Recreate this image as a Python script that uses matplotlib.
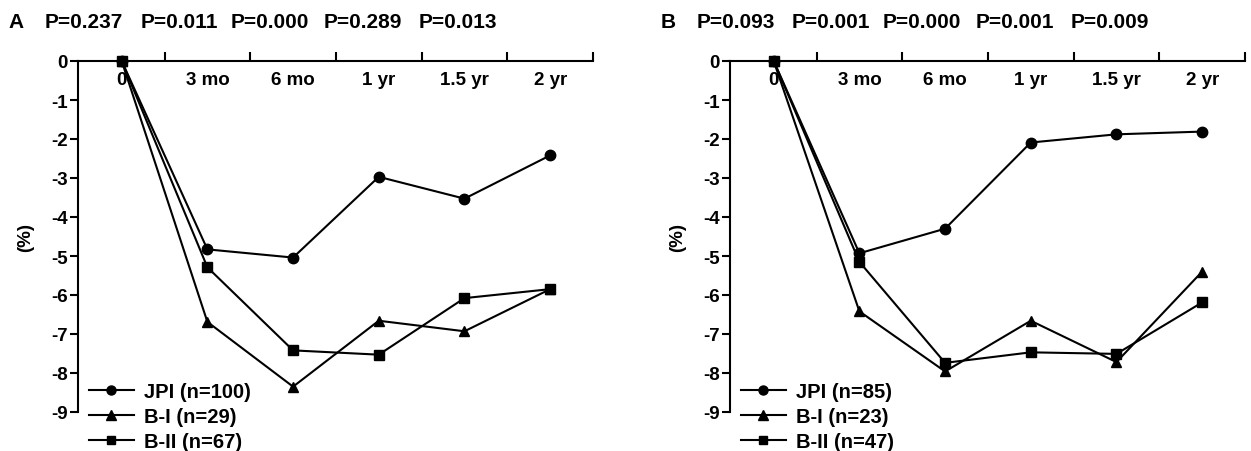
import numpy as np
import matplotlib
matplotlib.use('Agg')
from matplotlib import pyplot as plt
from matplotlib.lines import Line2D

plt.rcParams['font.family'] = ['Liberation Sans', 'DejaVu Sans']
plt.rcParams['font.weight'] = 'bold'

x_labels = ['0', '3 mo', '6 mo', '1 yr', '1.5 yr', '2 yr']

# panel A
a_p = ['0.237', '0.011', '0.000', '0.289', '0.013']
a_jpi = [0, -4.83, -5.04, -2.97, -3.53, -2.42]
a_b1 = [0, -6.69, -8.35, -6.66, -6.93, -5.85]
a_b2 = [0, -5.29, -7.42, -7.53, -6.08, -5.85]
a_n = [100, 29, 67]

# panel B
b_p = ['0.093', '0.001', '0.000', '0.001', '0.009']
b_jpi = [0, -4.93, -4.30, -2.09, -1.88, -1.81]
b_b1 = [0, -6.42, -7.96, -6.66, -7.72, -5.40]
b_b2 = [0, -5.15, -7.74, -7.47, -7.51, -6.19]
b_n = [85, 23, 47]

W, H = 1251, 452
fig = plt.figure(figsize=(W / 100, H / 100), dpi=100)
FS = 13.5

def px_axes(l, r, t, b):
    return fig.add_axes([l / W, 1 - b / H, (r - l) / W, (b - t) / H])

def draw(ax, jpi, b1, b2, n):
    x = np.arange(len(x_labels))
    kw = dict(color='black', lw=1.5, clip_on=False)
    ax.plot(x, b1, marker='^', ms=7.5, **kw)
    ax.plot(x, b2, marker='s', ms=6.5, **kw)
    ax.plot(x, jpi, marker='o', ms=7.5, **kw)
    ax.set_xlim(-0.51, 5.5)
    ax.set_ylim(-9, 0)
    ax.spines['top'].set_visible(False)
    ax.spines['right'].set_visible(False)
    ax.spines['bottom'].set_position(('data', 0))
    for s in ['left', 'bottom']:
        ax.spines[s].set_linewidth(1.5)
    ax.set_yticks(range(0, -10, -1))
    ax.set_yticklabels([str(v) for v in range(0, -10, -1)], fontsize=FS, fontweight='bold')
    ax.tick_params(axis='y', direction='out', length=5.5, width=1.5, pad=2)
    ax.set_xticks(np.arange(0.5, 6, 1))
    ax.set_xticklabels([])
    ax.tick_params(axis='x', which='major', direction='in', length=6.5, width=1.5)
    ax.set_xticks(x, minor=True)
    ax.set_xticklabels(x_labels, minor=True, fontsize=FS, fontweight='bold')
    ax.tick_params(axis='x', which='minor', length=0, pad=7)
    ax.set_ylabel('(%)', fontsize=FS, fontweight='bold', labelpad=12)
    handles = [Line2D([], [], color='black', lw=1.5, marker=m, ms=s)
               for m, s in [('o', 6.5), ('^', 6.5), ('s', 5.5)]]
    labels = ['JPI (n=%d)' % n[0], 'B-I (n=%d)' % n[1], 'B-II (n=%d)' % n[2]]
    ax.legend(handles, labels, loc='upper left', bbox_to_anchor=(0.022, 0.086),
              frameon=False, handlelength=2.2, handletextpad=0.5,
              labelspacing=0.3, borderpad=0, borderaxespad=0,
              prop={'weight': 'bold', 'size': 14.5})

def p_row(ax, letter, pvals):
    # P values sit above the axis, spaced from the y spine
    left = ax.get_position().x0 * W
    fig.text((left - 62) / W, 1 - 22 / H, letter, fontsize=15, fontweight='heavy',
             va='center', ha='center')
    for off, p in zip([6, 101, 192, 285, 380], pvals):
        fig.text((left + off) / W, 1 - 22 / H, 'P=' + p, fontsize=15,
                 fontweight='bold', va='center', ha='center')

ax_a = px_axes(78, 593, 62, 413)
draw(ax_a, a_jpi, a_b1, a_b2, a_n)
p_row(ax_a, 'A', a_p)

ax_b = px_axes(730, 1245, 62, 413)
draw(ax_b, b_jpi, b_b1, b_b2, b_n)
p_row(ax_b, 'B', b_p)

fig.savefig('out.png', dpi=100)
